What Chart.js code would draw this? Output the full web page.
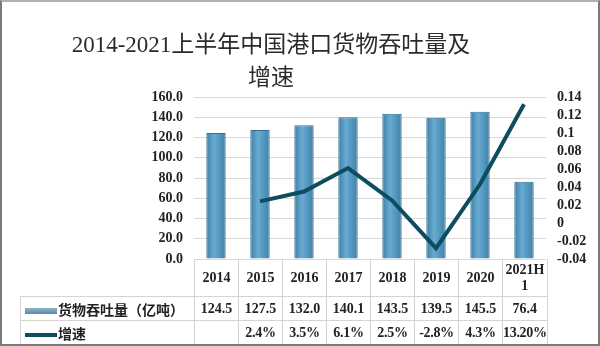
<!DOCTYPE html>
<html lang="zh">
<head>
<meta charset="UTF-8">
<title>2014-2021上半年中国港口货物吞吐量及增速</title>
<style>
    body {
        margin: 0;
        width: 600px;
        height: 346px;
        position: relative;
        overflow: hidden;
        background: #ffffff;
    }
    #portChart {
        position: absolute;
        left: 0;
        top: 0;
    }
    .title {
        position: absolute;
        left: 0;
        top: 28px;
        width: 542px;
        text-align: center;
        font-family: "Liberation Serif", "Noto Sans CJK SC", serif;
        font-size: 23px;
        line-height: 33px;
        color: #2b2b2b;
    }
    #dataTable {
        position: absolute;
        left: 20px;
        top: 259px;
        border-collapse: collapse;
        table-layout: fixed;
        font-family: "Liberation Serif", "Noto Sans CJK SC", serif;
        font-weight: bold;
        font-size: 14px;
        color: #222;
    }
    #dataTable td {
        border: 1px solid #d4d4d4;
        padding: 0;
        text-align: center;
        line-height: 16px;
        overflow: visible;
    }
    #dataTable tr.head td { height: 37px; border-top: none; word-break: break-all; padding: 0 1px; }
    #dataTable tr.head td.corner { border: none; }
    #dataTable tr.row td { height: 23px; white-space: nowrap; }
    #dataTable td.pct { letter-spacing: -0.3px; }
    #dataTable td.name {
        text-align: left;
        font-family: "Noto Sans CJK SC", sans-serif;
        font-size: 14px;
        padding-left: 4px;
    }
    .swatch {
        display: inline-block;
        width: 32px;
        vertical-align: middle;
        margin-right: 1px;
    }
    .swatch.bar {
        height: 6px;
        background: linear-gradient(#8fb3c8, #5e8aa6);
    }
    .swatch.line {
        height: 4px;
        background: #0d4d60;
    }
    .frame {
        position: absolute;
        left: 0;
        top: 0;
        width: 600px;
        height: 346px;
        box-sizing: border-box;
        border: 2px solid #7a7a7a;
        border-top-color: #b0b0b0;
        pointer-events: none;
    }
</style>
</head>
<body>
<canvas id="portChart" width="600" height="346"></canvas>
<div class="title">2014-2021上半年中国港口货物吞吐量及<br>增速</div>
<table id="dataTable"></table>
<div class="frame"></div>
<script src="https://cdn.jsdelivr.net/npm/chart.js"></script>
<script>
    const categories = ['2014', '2015', '2016', '2017', '2018', '2019', '2020', '2021H1'];
    const throughput = [124.5, 127.5, 132.0, 140.1, 143.5, 139.5, 145.5, 76.4];
    const growth = [null, 0.024, 0.035, 0.061, 0.025, -0.028, 0.043, 0.132];
    const growthLabels = ['', '2.4%', '3.5%', '6.1%', '2.5%', '-2.8%', '4.3%', '13.20%'];
    const barName = '货物吞吐量（亿吨）';
    const lineName = '增速';

    const tickFont = { family: 'Liberation Serif', size: 14, weight: 'bold' };

    // horizontal shading on each bar, lighter in the middle
    function barFill(context) {
        const chart = context.chart;
        if (!chart.chartArea) return '#4d92bb';
        const x = chart.scales.x.getPixelForValue(context.dataIndex);
        const g = chart.ctx.createLinearGradient(x - 10, 0, x + 10, 0);
        g.addColorStop(0, '#3b7ba3');
        g.addColorStop(0.4, '#68acd2');
        g.addColorStop(1, '#3e80a8');
        return g;
    }

    function buildTable() {
        const table = document.getElementById('dataTable');
        let html = '<colgroup><col style="width:174px">';
        categories.forEach(() => { html += '<col style="width:44px">'; });
        html += '</colgroup>';
        html += '<tr class="head"><td class="corner"></td>' +
            categories.map(c => `<td>${c}</td>`).join('') + '</tr>';
        html += `<tr class="row"><td class="name"><span class="swatch bar"></span>${barName}</td>` +
            throughput.map(v => `<td>${v.toFixed(1)}</td>`).join('') + '</tr>';
        html += `<tr class="row"><td class="name"><span class="swatch line"></span>${lineName}</td>` +
            growthLabels.map(v => `<td class="pct">${v}</td>`).join('') + '</tr>';
        table.innerHTML = html;
    }

    document.addEventListener('DOMContentLoaded', () => {
        buildTable();
        const ctx = document.getElementById('portChart').getContext('2d');
        new Chart(ctx, {
            data: {
                labels: categories,
                datasets: [
                    {
                        type: 'line',
                        label: lineName,
                        data: growth,
                        yAxisID: 'y1',
                        borderColor: '#0d4d60',
                        borderWidth: 4,
                        pointRadius: 0,
                        tension: 0,
                        order: 0
                    },
                    {
                        type: 'bar',
                        label: barName,
                        data: throughput,
                        yAxisID: 'y',
                        backgroundColor: barFill,
                        borderColor: '#34708f',
                        borderWidth: 1,
                        barPercentage: 0.44,
                        categoryPercentage: 1,
                        order: 1
                    }
                ]
            },
            options: {
                responsive: false,
                animation: false,
                layout: { padding: { top: 97, bottom: 87, left: 0, right: 0 } },
                plugins: {
                    legend: { display: false },
                    tooltip: { enabled: false }
                },
                scales: {
                    x: { display: false },
                    y: {
                        position: 'left',
                        min: 0,
                        max: 160,
                        ticks: {
                            stepSize: 20,
                            padding: 11,
                            autoSkip: false,
                            color: '#222',
                            font: tickFont,
                            callback: v => v.toFixed(1)
                        },
                        grid: { color: '#d9d9d9', drawTicks: false },
                        border: { display: false },
                        afterFit: s => { s.width = 194; }
                    },
                    y1: {
                        position: 'right',
                        min: -0.04,
                        max: 0.14,
                        ticks: {
                            stepSize: 0.02,
                            padding: 11,
                            autoSkip: false,
                            color: '#222',
                            font: tickFont,
                            callback: v => String(+v.toFixed(2))
                        },
                        grid: { display: false, drawTicks: false },
                        border: { display: false },
                        afterFit: s => { s.width = 54; }
                    }
                }
            }
        });
    });
</script>
</body>
</html>
